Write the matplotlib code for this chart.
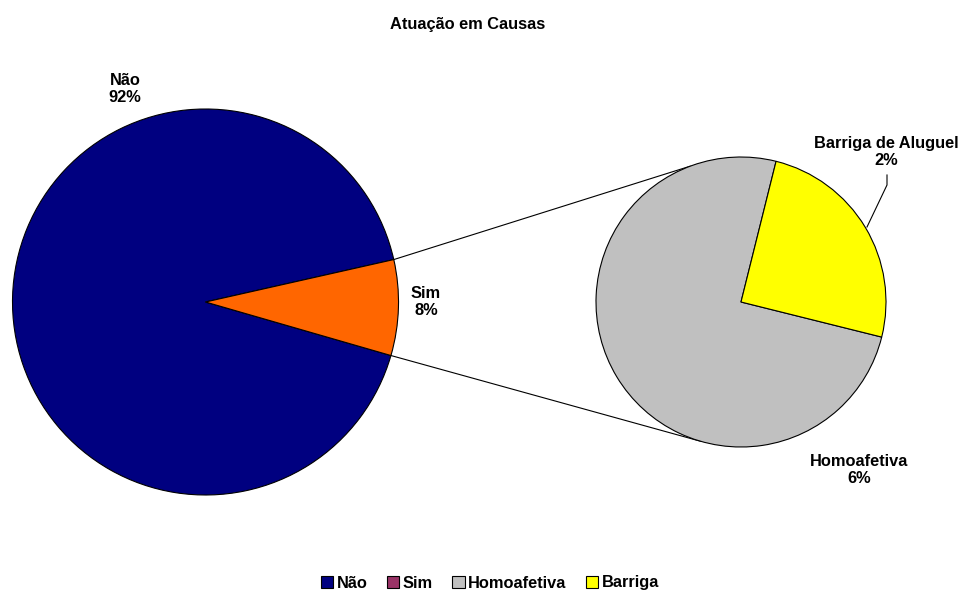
import matplotlib.pyplot as plt
import numpy as np
from matplotlib.patches import Patch

plt.rcParams['font.family'] = ['Liberation Sans', 'DejaVu Sans']

title = "Atuação em Causas"
main_labels = ["Não", "Sim"]
main_values = [92, 8]
sub_labels = ["Homoafetiva", "Barriga de Aluguel"]
sub_values = [6, 2]
legend_labels = ["Não", "Sim", "Homoafetiva", "Barriga"]

main_colors = ["#000080", "#FF6600"]
sub_colors = ["#C0C0C0", "#FFFF00"]
legend_colors = ["#000080", "#993366", "#C0C0C0", "#FFFF00"]

W, H = 961, 591


def py(y):
    # pixel y (top-down) -> data y
    return H - y


fig = plt.figure(figsize=(W / 100, H / 100), dpi=100)
ax = fig.add_axes([0, 0, 1, 1])

wp = dict(edgecolor="black", linewidth=0.8)

# main pie
mc = (205.5, py(302))
mr = 193
w_main, _ = ax.pie(main_values, colors=main_colors, center=mc, radius=mr,
                   startangle=12.7, counterclock=True, explode=[0, 0.015],
                   wedgeprops=wp)

# secondary pie
sc = (741, py(302))
sr = 145
w_sub, _ = ax.pie(sub_values, colors=sub_colors, center=sc, radius=sr,
                  startangle=76, counterclock=True, wedgeprops=wp)

ax.set_xlim(0, W)
ax.set_ylim(0, H)
ax.set_aspect("auto")
ax.axis("off")

# connector lines from the Sim slice to the secondary pie
sim = w_main[1]
cx, cy = sim.center
r = sim.r
for th_main, th_sub in [(sim.theta2, 110.5), (sim.theta1, -106)]:
    x0 = cx + r * np.cos(np.radians(th_main))
    y0 = cy + r * np.sin(np.radians(th_main))
    x1 = sc[0] + sr * np.cos(np.radians(th_sub))
    y1 = sc[1] + sr * np.sin(np.radians(th_sub))
    ax.plot([x0, x1], [y0, y1], color="black", lw=0.8, zorder=0)

tot = sum(main_values)
fs = 11.8
ls = 1.2
ax.text(468, py(24), title, ha="center", va="center", fontsize=fs, fontweight="bold")
ax.text(125, py(89), f"{main_labels[0]}\n{round(main_values[0] / tot * 100)}%",
        ha="center", va="center", fontsize=fs, fontweight="bold", linespacing=ls)
ax.text(426, py(302), f"{main_labels[1]}\n{round(main_values[1] / tot * 100)}%",
        ha="center", va="center", fontsize=fs, fontweight="bold", linespacing=ls)
ax.text(859, py(470), f"{sub_labels[0]}\n{round(sub_values[0] / tot * 100)}%",
        ha="center", va="center", fontsize=fs, fontweight="bold", linespacing=ls)
ax.text(886, py(152), f"{sub_labels[1]}\n{round(sub_values[1] / tot * 100)}%",
        ha="center", va="center", fontsize=fs, fontweight="bold", linespacing=ls)
# leader line for Barriga
ax.plot([887, 887, 867], [py(175), py(185), py(227)], color="black", lw=0.8)

handles = [Patch(facecolor=c, edgecolor="black", linewidth=0.8) for c in legend_colors]
leg = fig.legend(handles, legend_labels, loc="center", bbox_to_anchor=(490 / W, 1 - 583 / H),
                 ncol=4, frameon=False, handlelength=0.75, handleheight=0.75,
                 handletextpad=0.2, columnspacing=1.2,
                 prop=dict(weight="bold", size=fs))

fig.savefig("out.png", dpi=100)
